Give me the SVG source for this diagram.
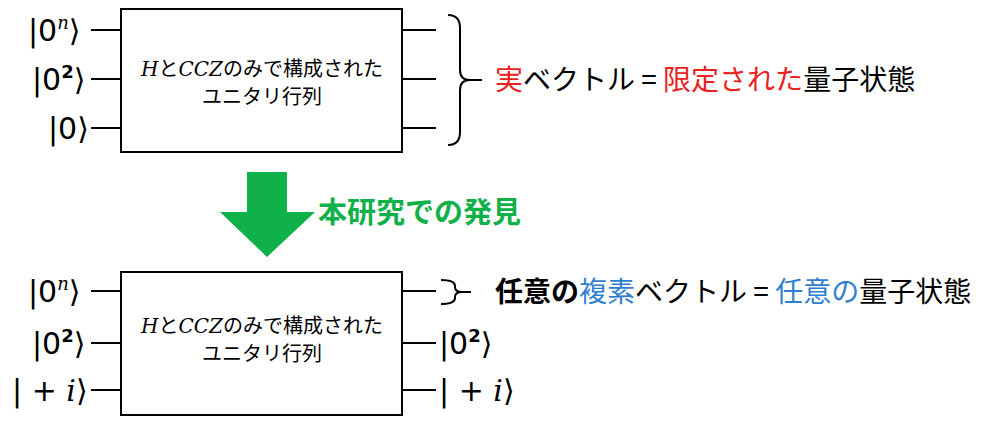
<svg xmlns="http://www.w3.org/2000/svg" width="1000" height="425" viewBox="0 0 1000 425">
<style>
.box{fill:#fff;stroke:#000;stroke-width:2}
.w{stroke:#000;stroke-width:2;fill:none}
.k{font-family:"DejaVu Sans","Liberation Sans",sans-serif;font-size:30px;fill:#000}
.c{font-family:"Noto Sans CJK JP",sans-serif;font-size:20px;fill:#000;text-anchor:middle}
.m{font-family:"DejaVu Serif",serif;font-style:italic}
.t{font-family:"Noto Sans CJK JP",sans-serif;font-size:28px;fill:#000}
.r{fill:#e8221e}.b{fill:#2e7fd0}
</style>
<rect width="1000" height="425" fill="#fff"/>
<g id="connectors">
<path class="w" d="M91 30H121M91 79H121M91 128H121M402 30H436M402 79H436M402 128H436"/>
<path class="w" d="M91 291H121M91 343H121M91 390H121M402 291H436M402 343H436M402 390H436"/>
<path class="w" d="M448 15Q460 15 460 28V70Q460 80 470 80H482M470 80Q460 80 460 90V132Q460 145 448 145"/>
<path class="w" d="M441 280Q455 280 455 286V287Q455 292 462 292H471M462 292Q455 292 455 297V298Q455 304 441 304"/>
</g>
<g id="top">
<rect class="box" x="121" y="9" width="281" height="143"/>
<text class="c" x="262" y="76"><tspan class="m">H</tspan>と<tspan class="m">CCZ</tspan>のみで構成された</text>
<text class="c" x="262" y="104">ユニタリ行列</text>
<text class="k" x="28" y="41">|0<tspan class="m" font-size="18" dy="-12">n</tspan><tspan dy="12">⟩</tspan></text>
<text class="k" x="32" y="90">|0<tspan font-size="18" font-weight="bold" dy="-12">2</tspan><tspan dy="12">⟩</tspan></text>
<text class="k" x="48" y="139">|0⟩</text>
<text class="t" x="495" y="90"><tspan class="r">実</tspan>ベクトル = <tspan class="r">限定された</tspan>量子状態</text>
</g>
<g id="arrow">
<path d="M247 172H287V212H315L267 257L220 212H247Z" fill="#10b04a"/>
<text x="318" y="223" font-family="Noto Sans CJK JP,sans-serif" font-size="29" font-weight="bold" fill="#10b04a">本研究での発見</text>
</g>
<g id="bottom">
<rect class="box" x="121" y="272" width="281" height="143"/>
<text class="c" x="262" y="333"><tspan class="m">H</tspan>と<tspan class="m">CCZ</tspan>のみで構成された</text>
<text class="c" x="262" y="361">ユニタリ行列</text>
<text class="k" x="28" y="302">|0<tspan class="m" font-size="18" dy="-12">n</tspan><tspan dy="12">⟩</tspan></text>
<text class="k" x="32" y="354">|0<tspan font-size="18" font-weight="bold" dy="-12">2</tspan><tspan dy="12">⟩</tspan></text>
<text class="k" x="12" y="401">| + <tspan class="m">i</tspan>⟩</text>
<text class="k" x="439" y="354">|0<tspan font-size="18" font-weight="bold" dy="-12">2</tspan><tspan dy="12">⟩</tspan></text>
<text class="k" x="439" y="401">| + <tspan class="m">i</tspan>⟩</text>
<text class="t" x="495" y="302"><tspan font-weight="bold">任意の</tspan><tspan class="b">複素</tspan>ベクトル = <tspan class="b">任意の</tspan>量子状態</text>
</g>
</svg>
